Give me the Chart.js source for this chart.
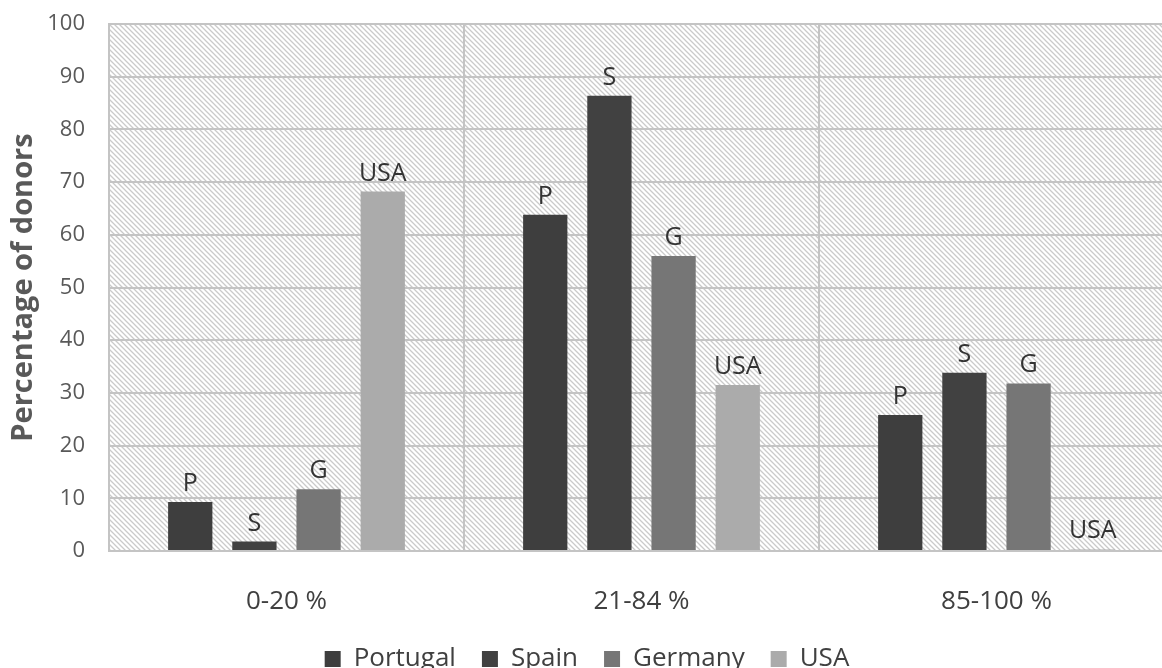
<!DOCTYPE html>
<html>
<head>
<meta charset="utf-8">
<script src="https://cdn.jsdelivr.net/npm/chart.js@4/dist/chart.umd.min.js"></script>
<style>
  html, body { margin: 0; padding: 0; background: #fff; overflow: hidden; }
  #wrap { position: relative; width: 1174px; height: 668px; }
</style>
</head>
<body>
<div id="wrap"><canvas id="c"></canvas></div>
<script>
const categories = ['0-20 %', '21-84 %', '85-100 %'];
const seriesNames = ['Portugal', 'Spain', 'Germany', 'USA'];
const seriesShort = ['P', 'S', 'G', 'USA'];
const portugal = [9.3, 63.8, 25.8];
const spain = [1.8, 86.4, 33.8];
const germany = [11.7, 56.0, 31.8];
const usa = [68.2, 31.5, 0.3];
const yTicks = [0, 10, 20, 30, 40, 50, 60, 70, 80, 90, 100];
const colors = ['#3e3e3e', '#414141', '#767676', '#ababab'];

const values = [portugal, spain, germany, usa];

function makeHatch() {
  const s = 5;
  const pc = document.createElement('canvas');
  pc.width = s; pc.height = s;
  const g = pc.getContext('2d');
  g.fillStyle = '#ffffff';
  g.fillRect(0, 0, s, s);
  g.strokeStyle = '#cacaca';
  g.lineWidth = 1.3;
  g.beginPath();
  g.moveTo(-1, -1); g.lineTo(s + 1, s + 1);
  g.moveTo(-1 - s, -1); g.lineTo(1, s + 1);
  g.moveTo(s - 1, -1); g.lineTo(2 * s + 1, s + 1);
  g.stroke();
  return g.canvas;
}

const hatchPlugin = {
  id: 'hatch',
  beforeDraw(chart) {
    const { ctx, chartArea: a } = chart;
    ctx.save();
    ctx.fillStyle = ctx.createPattern(makeHatch(), 'repeat');
    ctx.fillRect(a.left, a.top, a.right - a.left, a.bottom - a.top);
    ctx.restore();
  }
};

const labelPlugin = {
  id: 'barLabels',
  afterDatasetsDraw(chart) {
    const ctx = chart.ctx;
    ctx.save();
    ctx.font = '25px "Open Sans"';
    ctx.fillStyle = '#333333';
    ctx.textAlign = 'center';
    ctx.textBaseline = 'alphabetic';
    chart.data.datasets.forEach((ds, i) => {
      const meta = chart.getDatasetMeta(i);
      meta.data.forEach((bar) => {
        ctx.fillText(seriesShort[i], bar.x, bar.y - 11);
      });
    });
    ctx.restore();
  }
};

new Chart(document.getElementById('c'), {
  type: 'bar',
  data: {
    labels: categories,
    datasets: seriesNames.map((n, i) => ({
      label: n,
      data: values[i],
      backgroundColor: colors[i],
      borderWidth: 0,
      categoryPercentage: 0.723,
      barPercentage: 0.69
    }))
  },
  options: {
    responsive: true,
    maintainAspectRatio: false,
    animation: false,
    layout: { padding: { top: 24, right: 0, left: 0, bottom: -14 } },
    plugins: {
      legend: {
        position: 'bottom',
        labels: {
          boxWidth: 16, boxHeight: 16, padding: 26,
          color: '#404040',
          font: { family: '"Open Sans"', size: 26 }
        }
      },
      tooltip: { enabled: false }
    },
    scales: {
      x: {
        grid: { color: '#c4c4c4', lineWidth: 2, drawTicks: false, offset: true },
        border: { color: '#c4c4c4', width: 2 },
        ticks: { color: '#404040', font: { family: '"Open Sans"', size: 26, lineHeight: 1.0 }, padding: 38 },
        afterFit(scale) { scale.height = scale.height - 33; }
      },
      y: {
        min: 0, max: 100,
        afterBuildTicks(scale) { scale.ticks = yTicks.map(v => ({ value: v })); },
        grid: { color: '#c4c4c4', lineWidth: 2, drawTicks: false },
        border: { color: '#c4c4c4', width: 2 },
        ticks: { color: '#595959', font: { family: '"Open Sans"', size: 22 }, padding: 24 },
        title: {
          display: true, text: 'Percentage of donors', color: '#595959',
          font: { family: '"Open Sans"', size: 29, weight: 'bold' }, padding: { top: 6, bottom: 10 }
        },
        afterFit(scale) { scale.width = 109; scale.paddingTop = 0; scale.paddingBottom = 0; }
      }
    }
  },
  plugins: [hatchPlugin, labelPlugin]
});
</script>
</body>
</html>
